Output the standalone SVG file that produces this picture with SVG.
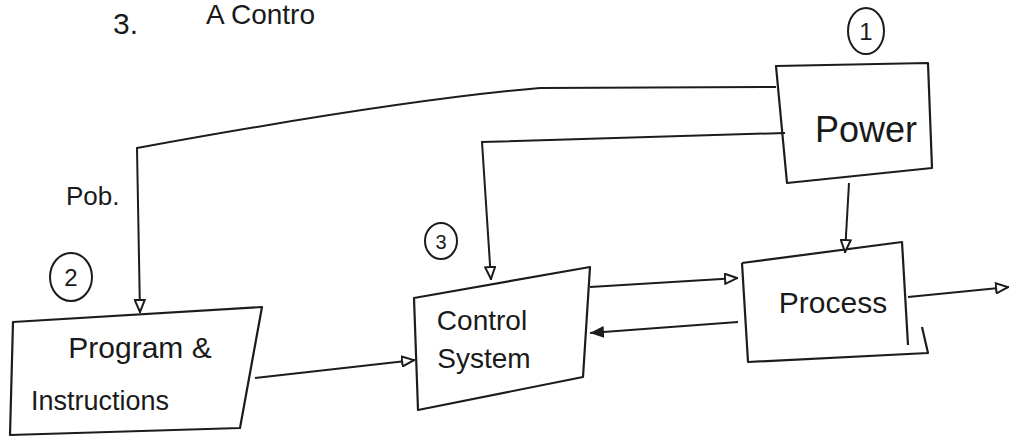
<svg xmlns="http://www.w3.org/2000/svg" width="1011" height="439" viewBox="0 0 1011 439">
<style>
.box{fill:none;stroke:#1c1c1c;stroke-width:2.2;stroke-linejoin:round}
.ln{fill:none;stroke:#1c1c1c;stroke-width:2}
.t{font-family:"Liberation Sans",Arial,sans-serif;fill:#1a1a1a}
.c{fill:none;stroke:#1c1c1c;stroke-width:2}
</style>
<defs>
<marker id="open" viewBox="0 0 14 12" refX="14" refY="6" markerWidth="14" markerHeight="12" markerUnits="userSpaceOnUse" orient="auto">
<path d="M1,1 L13,6 L1,11 Z" fill="#fff" stroke="#1c1c1c" stroke-width="2"/>
</marker>
<marker id="fill" viewBox="0 0 14 12" refX="14" refY="6" markerWidth="14" markerHeight="12" markerUnits="userSpaceOnUse" orient="auto">
<path d="M0,0 L14,6 L0,12 Z" fill="#1c1c1c"/>
</marker>
</defs>
<rect width="1011" height="439" fill="#fff"/>
<text class="t" x="113" y="34" font-size="30">3.</text>
<text class="t" x="206" y="24" font-size="28">A Contro</text>

<g id="power">
<path class="box" d="M776,66 L928,63 L932,168 L787,183 Z"/>
<text class="t" x="866" y="142" font-size="36" text-anchor="middle">Power</text>
<ellipse class="c" cx="866" cy="31" rx="18" ry="23"/>
<text class="t" x="866" y="40" font-size="24" text-anchor="middle">1</text>
</g>

<g id="program">
<path class="box" d="M13,322 L262,307 L240,428 L10,435 Z"/>
<text class="t" x="140" y="358" font-size="30" text-anchor="middle">Program &amp;</text>
<text class="t" x="100" y="410" font-size="27" text-anchor="middle">Instructions</text>
<text class="t" x="66" y="205" font-size="26">Pob.</text>
<ellipse class="c" cx="71" cy="277" rx="21" ry="24"/>
<text class="t" x="71" y="286" font-size="24" text-anchor="middle">2</text>
</g>

<g id="control">
<path class="box" d="M414,298 L590,267 L583,377 L418,410 Z"/>
<text class="t" x="482" y="330" font-size="28" text-anchor="middle">Control</text>
<text class="t" x="484" y="368" font-size="28" text-anchor="middle">System</text>
<ellipse class="c" cx="441" cy="241" rx="16" ry="18"/>
<text class="t" x="441" y="249" font-size="20" text-anchor="middle">3</text>
</g>

<g id="process">
<path class="box" d="M742,263 L902,242 L908,345 M742,263 L748,362 L928,353 L922,327"/>
<text class="t" x="833" y="313" font-size="30" text-anchor="middle">Process</text>
</g>

<g id="connectors">
<path class="ln" d="M776,87 L540,88 Q400,100 137,148 L140,313" marker-end="url(#open)"/>
<path class="ln" d="M785,133 L482,142 L491,280" marker-end="url(#open)"/>
<path class="ln" d="M849,183 L845,253" marker-end="url(#open)"/>
<path class="ln" d="M255,378 L415,360" marker-end="url(#open)"/>
<path class="ln" d="M590,287 L738,278" marker-end="url(#open)"/>
<path class="ln" d="M738,322 L590,333" marker-end="url(#fill)"/>
<path class="ln" d="M908,297 L1009,287" marker-end="url(#open)"/>
</g>
</svg>
